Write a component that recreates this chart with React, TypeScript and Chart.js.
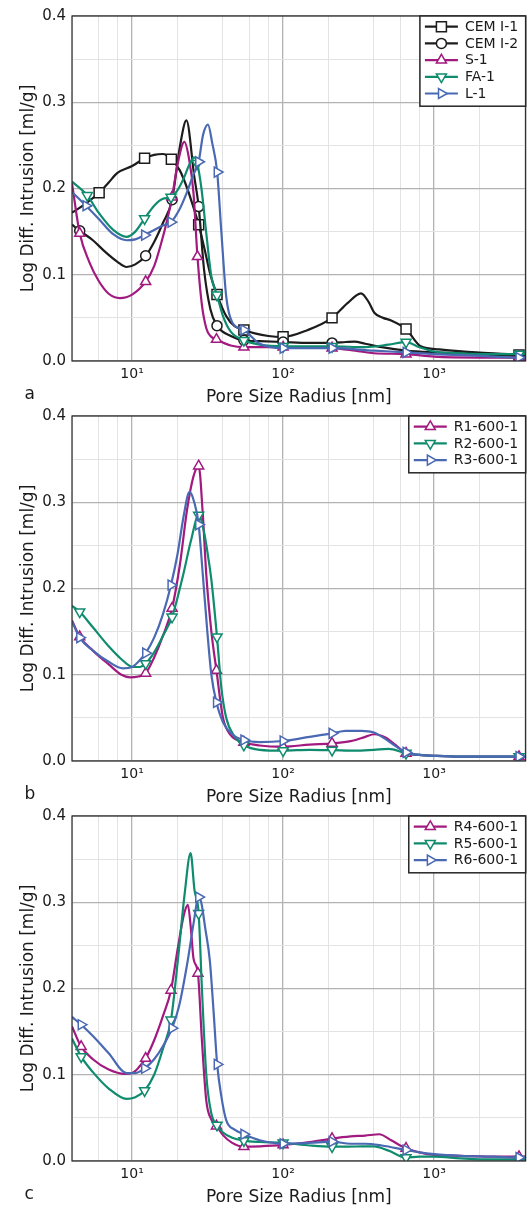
import React, { useEffect, useRef } from 'react';
import { Chart, registerables } from 'chart.js';

Chart.register(...registerables);

const FONT = '"DejaVu Sans", "Liberation Sans", sans-serif';
const TEXT = '#1a1a1a';
const BLACK = '#1c1c1c';
const MAGENTA = '#a2197f';
const GREEN = '#0f8b6e';
const BLUE = '#4a69b3';

// ---- axis ticks ----
const xTickValues = [4, 6, 8, 10, 20, 40, 60, 80, 100, 200, 400, 600, 800, 1000, 2000, 4000];
const xMajorValues = [10, 100, 1000];
const xMajorLabels = ['10¹', '10²', '10³'];
const yTickValues = [0, 0.05, 0.1, 0.15, 0.2, 0.25, 0.3, 0.35, 0.4];
const yTickLabels = ['0.0', '', '0.1', '', '0.2', '', '0.3', '', '0.4'];
const xTitle = 'Pore Size Radius [nm]';
const yTitle = 'Log Diff. Intrusion [ml/g]';

// ---- panel a ----
const cem1X = [4, 4.8, 6.05, 7, 8, 10, 12.1, 14, 16, 18.2, 20.7, 23.2, 25.5, 27.6, 30, 33, 36.5, 42, 48, 55, 65, 80, 100, 146, 211, 267, 328, 370, 402, 460, 520, 652, 817, 1080, 1900, 3650, 4040];
const cem1Y = [0.172, 0.181, 0.195, 0.207, 0.218, 0.226, 0.235, 0.239, 0.240, 0.234, 0.221, 0.200, 0.178, 0.158, 0.132, 0.100, 0.077, 0.052, 0.040, 0.036, 0.032, 0.029, 0.028, 0.036, 0.050, 0.067, 0.0785, 0.068, 0.056, 0.050, 0.047, 0.037, 0.017, 0.0135, 0.010, 0.007, 0.006];
const cem1Marks = [2, 6, 9, 13, 16, 19, 22, 24, 31, 35];

const cem2X = [4, 4.5, 5.5, 6.5, 8, 9.2, 10.5, 12.3, 14, 16, 18.4, 20.7, 22.9, 25.8, 27.6, 30, 33, 36.5, 45, 55, 70, 100, 150, 211, 260, 296, 350, 450, 652, 1000, 1500, 2500, 3650, 4040];
const cem2Y = [0.158, 0.151, 0.140, 0.128, 0.115, 0.109, 0.112, 0.122, 0.138, 0.160, 0.187, 0.248, 0.279, 0.214, 0.179, 0.105, 0.060, 0.041, 0.029, 0.024, 0.023, 0.022, 0.021, 0.021, 0.022, 0.0225, 0.020, 0.016, 0.012, 0.010, 0.009, 0.007, 0.006, 0.006];
const cem2Marks = [1, 7, 10, 14, 17, 19, 21, 23];

const s1X = [4, 4.5, 5.2, 6, 7, 8.3, 10, 12.3, 14, 15.5, 17, 18.4, 20, 22.2, 23.8, 25.5, 27.1, 29, 31, 33, 36.2, 45, 55, 100, 211, 300, 400, 652, 1000, 2000, 3650, 4040];
const s1Y = [0.206, 0.148, 0.115, 0.093, 0.078, 0.073, 0.077, 0.092, 0.110, 0.135, 0.162, 0.190, 0.228, 0.254, 0.235, 0.195, 0.121, 0.065, 0.038, 0.029, 0.025, 0.018, 0.016, 0.016, 0.015, 0.012, 0.009, 0.008, 0.005, 0.004, 0.004, 0.004];
const s1Marks = [1, 7, 11, 16, 20, 22, 23, 24, 27, 30];

const fa1X = [4, 5.05, 6, 7.5, 9.2, 10.5, 12.1, 14, 16, 18.1, 20, 22, 24, 25.8, 27, 28.8, 31, 33.5, 36.5, 40, 45, 55, 70, 100, 211, 350, 500, 652, 800, 1000, 1500, 2500, 3650, 4040];
const fa1Y = [0.208, 0.192, 0.172, 0.152, 0.144, 0.150, 0.165, 0.180, 0.188, 0.190, 0.198, 0.212, 0.228, 0.236, 0.229, 0.200, 0.148, 0.098, 0.0765, 0.052, 0.034, 0.024, 0.019, 0.017, 0.017, 0.016, 0.019, 0.022, 0.016, 0.011, 0.009, 0.008, 0.008, 0.008];
const fa1Marks = [1, 6, 9, 14, 18, 21, 23, 24, 27, 32];

const l1X = [4, 4.95, 6, 7.5, 9.2, 10.5, 12.1, 14, 16, 18.1, 20.5, 22.9, 25.3, 27.6, 29.5, 31.8, 34, 36.6, 39, 42, 46, 55, 70, 100, 211, 400, 652, 1000, 2000, 3650, 4040];
const l1Y = [0.196, 0.180, 0.165, 0.147, 0.140, 0.141, 0.146, 0.152, 0.157, 0.161, 0.175, 0.194, 0.215, 0.231, 0.262, 0.274, 0.252, 0.219, 0.150, 0.075, 0.045, 0.036, 0.020, 0.015, 0.015, 0.012, 0.010, 0.008, 0.006, 0.004, 0.004];
const l1Marks = [1, 6, 9, 13, 17, 21, 23, 24, 26, 29];

// ---- panel b ----
const r1X = [4, 4.5, 5.5, 7, 8.5, 9.7, 11, 12.3, 14, 16, 18.4, 20.7, 23.2, 25.5, 27.6, 29.3, 31, 33.5, 36.2, 40, 45, 55, 70, 100, 150, 211, 280, 350, 402, 480, 560, 652, 800, 1000, 1500, 2500, 3650, 4040];
const r1Y = [0.163, 0.144, 0.128, 0.112, 0.100, 0.097, 0.098, 0.1017, 0.120, 0.145, 0.177, 0.227, 0.293, 0.330, 0.342, 0.290, 0.216, 0.150, 0.105, 0.050, 0.030, 0.0217, 0.018, 0.0166, 0.019, 0.0205, 0.023, 0.028, 0.031, 0.027, 0.018, 0.009, 0.007, 0.006, 0.005, 0.005, 0.005, 0.005];
const r1Marks = [1, 7, 10, 14, 18, 21, 23, 25, 31, 36];

const r2X = [4, 4.5, 5.5, 7, 8.5, 10.1, 11.2, 12.3, 14, 16, 18.4, 21.8, 24.5, 27.6, 30, 32, 33.5, 36.5, 39, 42, 47, 55, 70, 100, 150, 211, 300, 400, 500, 652, 800, 1000, 1500, 2500, 3650, 4040];
const r2Y = [0.180, 0.173, 0.155, 0.133, 0.118, 0.109, 0.109, 0.113, 0.126, 0.145, 0.167, 0.216, 0.255, 0.285, 0.265, 0.235, 0.210, 0.144, 0.085, 0.050, 0.030, 0.0186, 0.013, 0.012, 0.013, 0.0126, 0.012, 0.013, 0.014, 0.009, 0.007, 0.006, 0.005, 0.005, 0.005, 0.005];
const r2Marks = [1, 7, 10, 13, 17, 21, 23, 25, 29, 34];

const r3X = [4, 4.5, 5.5, 7, 8.7, 10, 11, 12.3, 14, 16, 18.1, 20, 22, 24, 25.8, 27.6, 29.4, 31.5, 33.5, 36.2, 40, 46, 55, 70, 100, 150, 211, 260, 330, 400, 480, 560, 652, 800, 1000, 1500, 2500, 3650, 4040];
const r3Y = [0.162, 0.143, 0.128, 0.115, 0.1075, 0.109, 0.115, 0.125, 0.143, 0.170, 0.204, 0.240, 0.285, 0.312, 0.300, 0.274, 0.216, 0.150, 0.100, 0.068, 0.045, 0.031, 0.0243, 0.022, 0.0232, 0.028, 0.032, 0.035, 0.035, 0.033, 0.025, 0.017, 0.010, 0.007, 0.006, 0.005, 0.005, 0.005, 0.005];
const r3Marks = [1, 7, 10, 15, 19, 22, 24, 26, 32, 37];

// ---- panel c ----
const r4X = [4, 4.6, 5.5, 7, 8.95, 10, 11, 12.3, 14, 16, 18.1, 20, 22, 23.4, 24.5, 25.5, 27.3, 29, 31, 33.5, 36.2, 40, 46, 55, 70, 100, 150, 211, 280, 350, 433, 520, 652, 800, 1000, 1500, 2500, 3650, 4040];
const r4Y = [0.156, 0.1326, 0.118, 0.106, 0.101, 0.102, 0.108, 0.119, 0.140, 0.168, 0.198, 0.245, 0.285, 0.297, 0.270, 0.235, 0.2176, 0.140, 0.070, 0.048, 0.0406, 0.030, 0.021, 0.0166, 0.017, 0.0186, 0.022, 0.026, 0.0285, 0.0295, 0.031, 0.024, 0.0147, 0.010, 0.007, 0.006, 0.005, 0.005, 0.005];
const r4Marks = [1, 7, 10, 16, 20, 23, 25, 27, 32, 37];

const r5X = [4, 4.6, 5.5, 7, 9.2, 10.5, 12.1, 14, 16, 18.1, 20.1, 22.3, 24.4, 25.9, 27.6, 29, 31, 33.5, 36.5, 40, 46, 55, 70, 100, 150, 211, 300, 400, 500, 652, 800, 1000, 1500, 2000, 3650, 4040];
const r5Y = [0.142, 0.121, 0.103, 0.084, 0.072, 0.074, 0.0816, 0.100, 0.130, 0.1635, 0.233, 0.310, 0.357, 0.314, 0.287, 0.200, 0.100, 0.055, 0.0417, 0.033, 0.027, 0.0236, 0.022, 0.021, 0.018, 0.0166, 0.0168, 0.017, 0.012, 0.004, 0.005, 0.005, 0.003, 0.002, 0.002, 0.002];
const r5Marks = [1, 6, 9, 14, 18, 21, 23, 25, 29, 34];

const r6X = [4, 4.6, 5.5, 7, 9.2, 10.5, 12.1, 14, 16, 18.4, 20.5, 23.4, 25.5, 27.6, 28.7, 30.5, 32.7, 34.6, 36.6, 39, 42, 48, 55, 70, 100, 150, 211, 280, 350, 450, 652, 800, 1000, 1500, 2500, 3650, 4040];
const r6Y = [0.167, 0.158, 0.145, 0.125, 0.102, 0.102, 0.1075, 0.118, 0.133, 0.154, 0.180, 0.233, 0.275, 0.306, 0.300, 0.270, 0.233, 0.175, 0.112, 0.075, 0.0475, 0.036, 0.031, 0.024, 0.020, 0.021, 0.0224, 0.020, 0.020, 0.018, 0.0128, 0.010, 0.008, 0.006, 0.005, 0.004, 0.004];
const r6Marks = [1, 6, 9, 13, 18, 22, 24, 26, 30, 35];

// ---- marker styles ----
const SQUARE = { style: 'rect', radius: 7.07, rotation: 0 };
const CIRCLE = { style: 'circle', radius: 5, rotation: 0 };
const TRI_UP = { style: 'triangle', radius: 5.8, rotation: 0 };
const TRI_DOWN = { style: 'triangle', radius: 5.8, rotation: 180 };
const TRI_RIGHT = { style: 'triangle', radius: 5.8, rotation: 90 };

type Series = { label: string; x: number[]; y: number[]; marks: number[]; color: string; marker: any };

const panelA: Series[] = [
  { label: 'CEM I-1', x: cem1X, y: cem1Y, marks: cem1Marks, color: BLACK, marker: SQUARE },
  { label: 'CEM I-2', x: cem2X, y: cem2Y, marks: cem2Marks, color: BLACK, marker: CIRCLE },
  { label: 'S-1', x: s1X, y: s1Y, marks: s1Marks, color: MAGENTA, marker: TRI_UP },
  { label: 'FA-1', x: fa1X, y: fa1Y, marks: fa1Marks, color: GREEN, marker: TRI_DOWN },
  { label: 'L-1', x: l1X, y: l1Y, marks: l1Marks, color: BLUE, marker: TRI_RIGHT },
];
const panelB: Series[] = [
  { label: 'R1-600-1', x: r1X, y: r1Y, marks: r1Marks, color: MAGENTA, marker: TRI_UP },
  { label: 'R2-600-1', x: r2X, y: r2Y, marks: r2Marks, color: GREEN, marker: TRI_DOWN },
  { label: 'R3-600-1', x: r3X, y: r3Y, marks: r3Marks, color: BLUE, marker: TRI_RIGHT },
];
const panelC: Series[] = [
  { label: 'R4-600-1', x: r4X, y: r4Y, marks: r4Marks, color: MAGENTA, marker: TRI_UP },
  { label: 'R5-600-1', x: r5X, y: r5Y, marks: r5Marks, color: GREEN, marker: TRI_DOWN },
  { label: 'R6-600-1', x: r6X, y: r6Y, marks: r6Marks, color: BLUE, marker: TRI_RIGHT },
];

function drawMarker(ctx: CanvasRenderingContext2D, m: any, x: number, y: number, color: string) {
  ctx.save();
  ctx.beginPath();
  if (m.style === 'circle') {
    ctx.arc(x, y, m.radius, 0, Math.PI * 2);
  } else if (m.style === 'rect') {
    const s = Math.SQRT1_2 * m.radius;
    ctx.rect(x - s, y - s, 2 * s, 2 * s);
  } else {
    let rad = (m.rotation * Math.PI) / 180;
    for (let i = 0; i < 3; i++) {
      const px = x + Math.sin(rad) * m.radius;
      const py = y - Math.cos(rad) * m.radius;
      if (i === 0) ctx.moveTo(px, py);
      else ctx.lineTo(px, py);
      rad += (2 * Math.PI) / 3;
    }
    ctx.closePath();
  }
  ctx.fillStyle = '#fff';
  ctx.fill();
  ctx.strokeStyle = color;
  ctx.lineWidth = 1.5;
  ctx.stroke();
  ctx.restore();
}

const decorPlugin = {
  id: 'decor',
  afterDraw(chart: any, _args: any, opts: any) {
    const ctx: CanvasRenderingContext2D = chart.ctx;
    const ca = chart.chartArea;
    ctx.save();
    // axes frame
    ctx.strokeStyle = '#262626';
    ctx.lineWidth = 1.2;
    ctx.strokeRect(ca.left, ca.top, ca.right - ca.left, ca.bottom - ca.top);

    // titles
    ctx.fillStyle = TEXT;
    ctx.font = `17px ${FONT}`;
    ctx.textBaseline = 'alphabetic';
    ctx.textAlign = 'center';
    ctx.fillText(xTitle, (ca.left + ca.right) / 2, ca.bottom + 40.5);
    ctx.textAlign = 'left';
    ctx.fillText(opts.letter, 24.5, ca.bottom + 37.5);
    ctx.save();
    ctx.translate(32.5, (ca.top + ca.bottom) / 2);
    ctx.rotate(-Math.PI / 2);
    ctx.textAlign = 'center';
    ctx.fillText(yTitle, 0, 0);
    ctx.restore();

    // legend
    const items: Series[] = opts.series;
    ctx.font = `14px ${FONT}`;
    const maxW = Math.max(...items.map((s) => ctx.measureText(s.label).width));
    const rowH = 16.7;
    const boxW = 45 + maxW + 7.5;
    const boxH = items.length * rowH + 6.7;
    const left = ca.right - boxW;
    const top = ca.top;
    ctx.fillStyle = '#fff';
    ctx.fillRect(left, top, boxW, boxH);
    ctx.strokeStyle = '#262626';
    ctx.lineWidth = 1.5;
    ctx.strokeRect(left, top, boxW, boxH);
    items.forEach((s, i) => {
      const cy = top + 10.7 + i * rowH;
      ctx.strokeStyle = s.color;
      ctx.lineWidth = 2.2;
      ctx.beginPath();
      ctx.moveTo(left + 5, cy);
      ctx.lineTo(left + 38, cy);
      ctx.stroke();
      drawMarker(ctx, s.marker, left + 21.5, cy, s.color);
      ctx.fillStyle = TEXT;
      ctx.textAlign = 'left';
      ctx.textBaseline = 'middle';
      ctx.fillText(s.label, left + 45, cy + 0.5);
    });
    ctx.restore();
  },
};

const MAJOR_GRID = '#b3b3b3';
const MINOR_GRID = '#e3e3e3';

function Panel({ series, letter, top, height }: { series: Series[]; letter: string; top: number; height: number }) {
  const ref = useRef<HTMLCanvasElement>(null);
  useEffect(() => {
    if (!ref.current) return;
    const chart = new Chart(ref.current, {
      type: 'line',
      data: {
        datasets: series.map((s, i) => ({
          label: s.label,
          data: s.x.map((xv, j) => ({ x: xv, y: s.y[j] })),
          borderColor: s.color,
          borderWidth: 2.2,
          backgroundColor: '#fff',
          pointBackgroundColor: '#fff',
          pointBorderColor: s.color,
          pointBorderWidth: 1.5,
          pointStyle: s.marker.style,
          pointRotation: s.marker.rotation,
          pointRadius: (c: any) => (s.marks.includes(c.dataIndex) ? s.marker.radius : 0),
          pointHoverRadius: (c: any) => (s.marks.includes(c.dataIndex) ? s.marker.radius : 0),
          cubicInterpolationMode: 'monotone',
          fill: false,
          order: -i,
        })) as any,
      },
      options: {
        animation: false,
        responsive: false,
        devicePixelRatio: 1,
        events: [],
        layout: { padding: { left: 0, right: 3, top: 16, bottom: 0 } },
        plugins: {
          legend: { display: false },
          tooltip: { enabled: false },
          decor: { letter, series },
        } as any,
        scales: {
          x: {
            type: 'logarithmic',
            min: 4,
            max: 4040,
            afterBuildTicks: (axis: any) => {
              axis.ticks = xTickValues.map((v) => ({ value: v }));
            },
            afterFit: (axis: any) => {
              axis.height = height - 361;
            },
            ticks: {
              autoSkip: false,
              maxRotation: 0,
              minRotation: 0,
              padding: 5,
              color: TEXT,
              font: { family: FONT, size: 14 },
              callback: (v: any) => {
                const k = xMajorValues.indexOf(Number(v));
                return k >= 0 ? xMajorLabels[k] : '';
              },
            },
            grid: {
              drawTicks: false,
              color: (c: any) => (c.tick && xMajorValues.includes(c.tick.value) ? MAJOR_GRID : MINOR_GRID),
              lineWidth: (c: any) => (c.tick && xMajorValues.includes(c.tick.value) ? 1.3 : 1),
            },
            border: { display: false },
          },
          y: {
            type: 'linear',
            min: 0,
            max: 0.4,
            afterBuildTicks: (axis: any) => {
              axis.ticks = yTickValues.map((v) => ({ value: v }));
            },
            afterFit: (axis: any) => {
              axis.width = 72;
            },
            ticks: {
              autoSkip: false,
              padding: 6,
              color: TEXT,
              font: { family: FONT, size: 15 },
              callback: (_v: any, idx: number) => yTickLabels[idx],
            },
            grid: {
              drawTicks: false,
              color: (c: any) => (c.index % 2 === 0 ? MAJOR_GRID : MINOR_GRID),
              lineWidth: (c: any) => (c.index % 2 === 0 ? 1.3 : 1),
            },
            border: { display: false },
          },
        } as any,
      },
      plugins: [decorPlugin as any],
    });
    return () => chart.destroy();
  }, []);
  return (
    <canvas
      ref={ref}
      width={530}
      height={height}
      style={{ position: 'absolute', left: 0, top, width: 530, height, display: 'block' }}
    />
  );
}

export default function App() {
  return (
    <div style={{ position: 'absolute', left: 0, top: 0, width: 530, height: 1208, background: '#fff', overflow: 'hidden' }}>
      <Panel series={panelA} letter="a" top={0} height={408} />
      <Panel series={panelB} letter="b" top={400} height={408} />
      <Panel series={panelC} letter="c" top={800} height={408} />
    </div>
  );
}
